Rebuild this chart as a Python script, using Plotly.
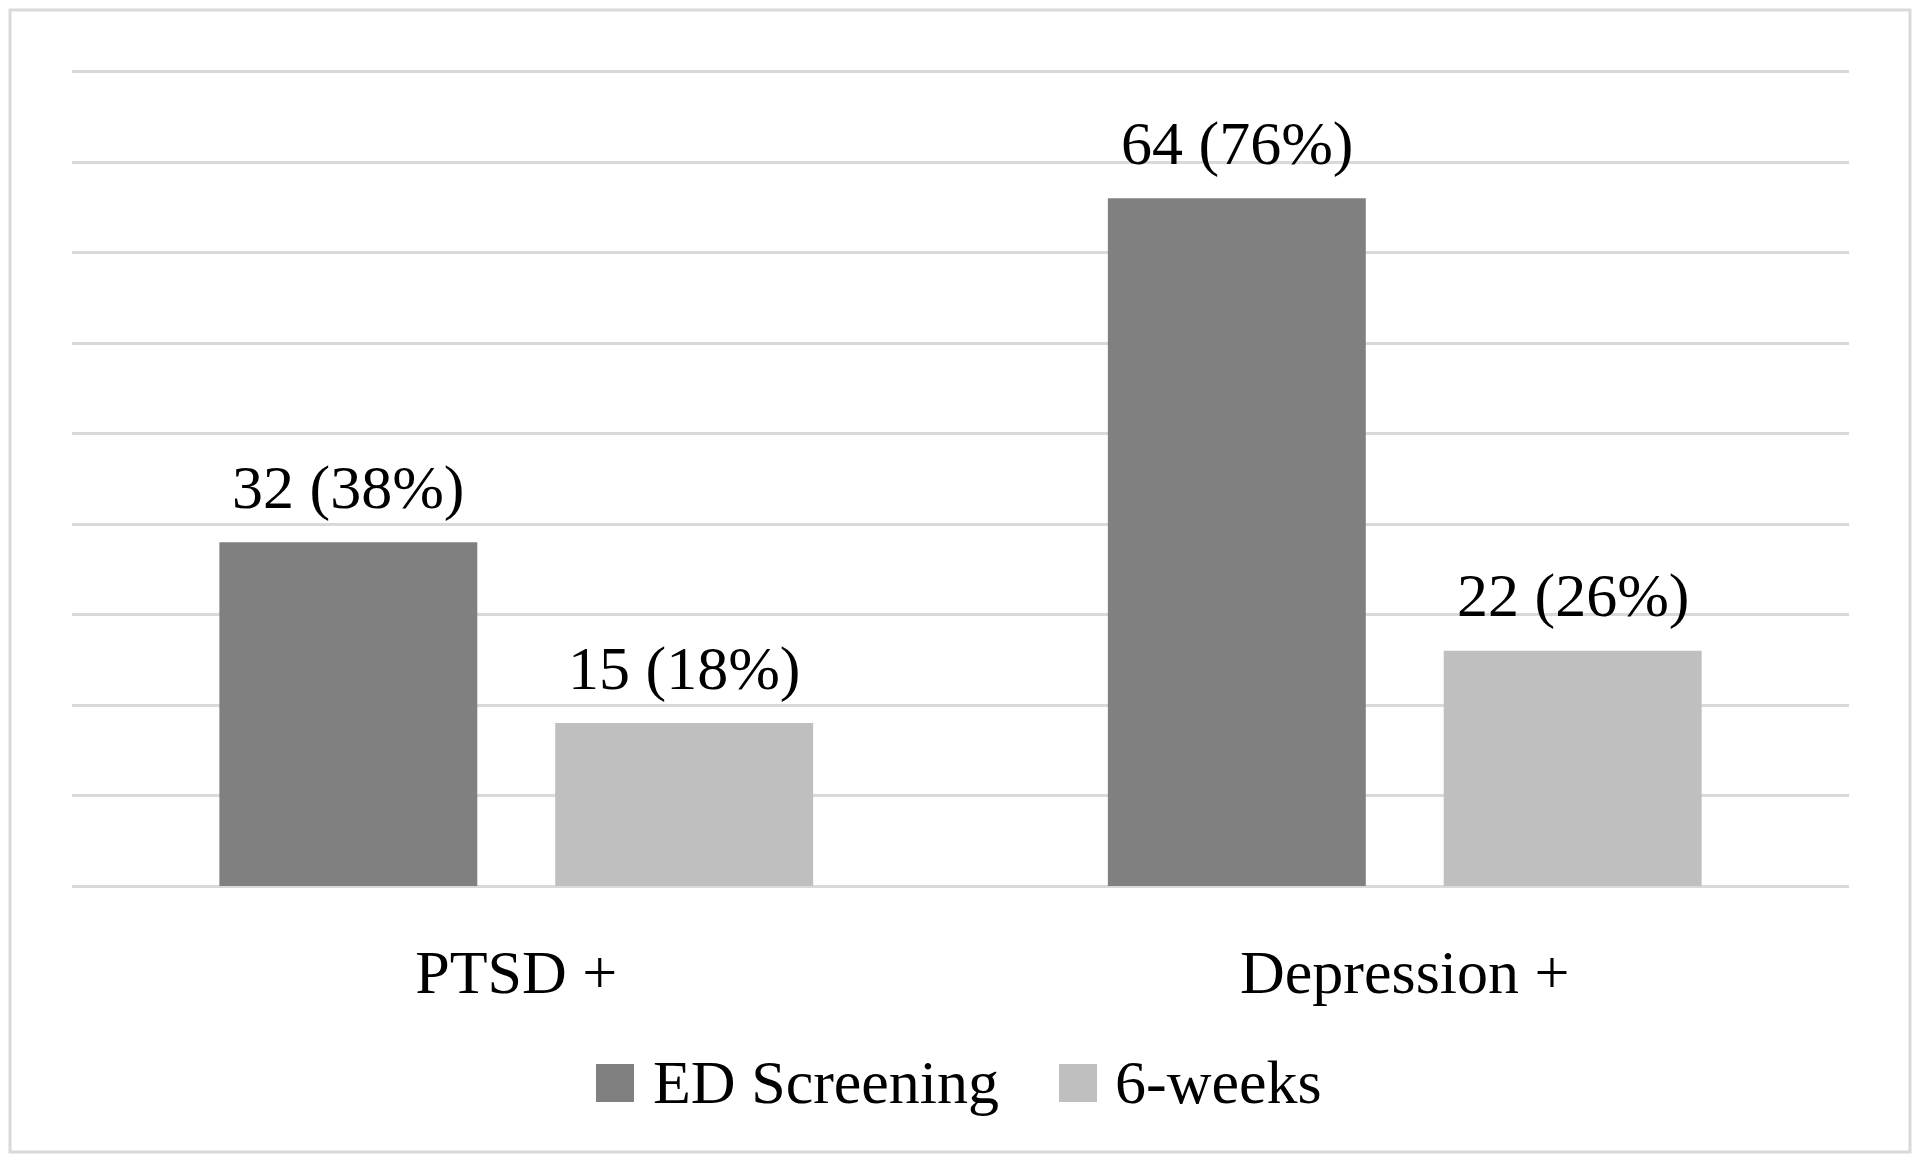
import plotly.graph_objects as go

categories = ['PTSD +', 'Depression +']
ed_counts = [32, 64]
ed_pct = [38, 76]
wk_counts = [15, 22]
wk_pct = [18, 26]

series_names = ['ED Screening', '6-weeks']
series_colors = ['#808080', '#bfbfbf']

FONT = 'Liberation Serif'
W, H = 1920, 1163
L, R, T, B = 72, 71, 68, 277
pw, ph = W - L - R, H - T - B
BARGAP, GROUPGAP = 0.244, 0.232


def px_x(x):
    return (x - L) / pw


def px_y(y):
    return (H - B - y) / ph


fig = go.Figure()
series = [(ed_counts, ed_pct), (wk_counts, wk_pct)]
slot = (1 - BARGAP) / len(series)
for k, (counts, pct) in enumerate(series):
    fig.add_trace(go.Bar(
        x=categories, y=pct, name=series_names[k],
        marker=dict(color=series_colors[k], line=dict(width=0)),
        showlegend=False,
    ))
    # value labels, sat a bit higher above the bars than plotly's own
    for i, (c, p) in enumerate(zip(counts, pct)):
        fig.add_annotation(x=i - (1 - BARGAP) / 2 + slot * (k + 0.5), y=p,
                           xref='x', yref='y', text=f'{c} ({p}%)', showarrow=False,
                           yanchor='middle', yshift=55,
                           font=dict(family=FONT, size=62, color='black'))

# border round the whole chart
fig.add_shape(type='rect', xref='paper', yref='paper',
              x0=px_x(10), x1=px_x(1910), y0=px_y(1152), y1=px_y(10),
              line=dict(color='#d9d9d9', width=3), layer='below')

# hand-made legend so the swatches can be big
legend_items = [(0, 596, 651), (1, 1059, 1113)]
for i, sx, tx in legend_items:
    fig.add_shape(type='rect', xref='paper', yref='paper',
                  x0=px_x(sx), x1=px_x(sx + 38), y0=px_y(1102), y1=px_y(1064),
                  fillcolor=series_colors[i], line=dict(width=0))
    fig.add_annotation(xref='paper', yref='paper', x=px_x(tx), y=px_y(1082),
                       text=series_names[i], showarrow=False, xanchor='left', yanchor='middle',
                       font=dict(family=FONT, size=62, color='black'))

fig.update_layout(
    width=W, height=H,
    margin=dict(l=L, r=R, t=T, b=B),
    paper_bgcolor='white', plot_bgcolor='white',
    barmode='group', bargap=BARGAP, bargroupgap=GROUPGAP,
    font=dict(family=FONT, color='black'),
)
fig.update_xaxes(showline=False, ticks='', showgrid=False,
                 tickfont=dict(family=FONT, size=62, color='black'),
                 ticklabelstandoff=44)
fig.update_yaxes(range=[0, 90.4], dtick=10, showticklabels=False, ticks='',
                 showgrid=True, gridcolor='#d9d9d9', gridwidth=3,
                 zeroline=True, zerolinecolor='#d9d9d9', zerolinewidth=3)

fig.write_html('out.html', config={'displayModeBar': False},
               post_script="document.body.style.margin='0';")
